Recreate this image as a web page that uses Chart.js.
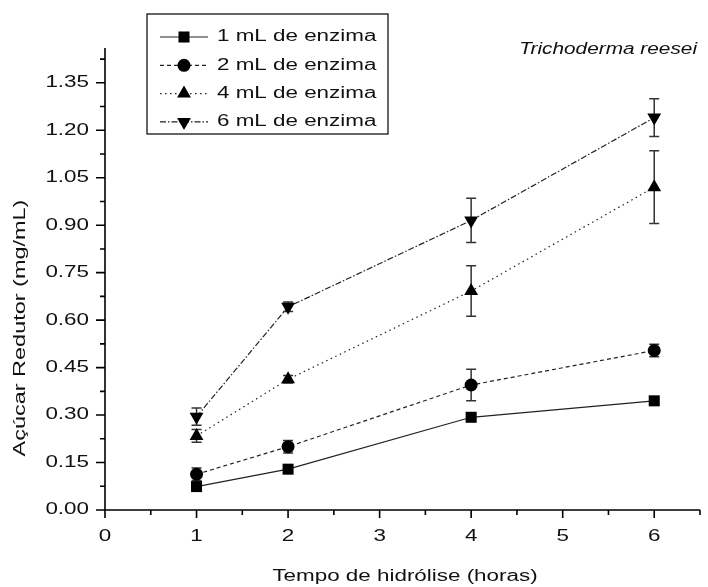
<!DOCTYPE html>
<html>
<head>
<meta charset="utf-8">
<script src="https://cdn.jsdelivr.net/npm/chart.js@4.4.0/dist/chart.umd.min.js"></script>
<style>
  html, body { margin: 0; padding: 0; background: #fff; }
  #wrap { width: 708px; height: 587px; }
</style>
</head>
<body>
<div id="wrap"><canvas id="chart" width="708" height="587"></canvas></div>
<script>
// dados
const horas = [1, 2, 4, 6];
const enzima1 = [0.074, 0.129, 0.293, 0.345];
const enzima2 = [0.113, 0.200, 0.395, 0.504];
const enzima4 = [0.234, 0.413, 0.692, 1.020];
const enzima6 = [0.295, 0.642, 0.915, 1.240];
const erro1 = [0.005, 0.005, 0.006, 0.006];
const erro2 = [0.020, 0.020, 0.050, 0.020];
const erro4 = [0.020, 0.012, 0.080, 0.115];
const erro6 = [0.027, 0.015, 0.070, 0.060];
const legendas = ['1 mL de enzima', '2 mL de enzima', '4 mL de enzima', '6 mL de enzima'];
const xTicks = [0, 1, 2, 3, 4, 5, 6];
const yTicks = [0, 0.15, 0.30, 0.45, 0.60, 0.75, 0.90, 1.05, 1.20, 1.35];

const FONTE = '"Liberation Sans", Arial, sans-serif';

function pontos(valores) {
  return horas.map((h, i) => ({ x: h, y: valores[i] }));
}

// texto esticado na horizontal, como no original
function texto(ctx, s, x, y, align, sx, rot) {
  ctx.save();
  ctx.translate(x, y);
  if (rot) ctx.rotate(rot);
  ctx.scale(sx, 1);
  ctx.textAlign = align;
  ctx.textBaseline = 'middle';
  ctx.fillText(s, 0, 0);
  ctx.restore();
}

const errorBars = {
  id: 'errorBars',
  beforeDatasetsDraw(chart) {
    const { ctx, scales: { x, y } } = chart;
    ctx.save();
    ctx.strokeStyle = '#333';
    ctx.lineWidth = 1.5;
    chart.data.datasets.forEach(ds => {
      ds.data.forEach((p, i) => {
        const e = ds.errors[i];
        const px = x.getPixelForValue(p.x);
        const top = y.getPixelForValue(p.y + e);
        const bot = y.getPixelForValue(p.y - e);
        ctx.beginPath();
        ctx.moveTo(px, top); ctx.lineTo(px, bot);
        ctx.moveTo(px - 5, top); ctx.lineTo(px + 5, top);
        ctx.moveTo(px - 5, bot); ctx.lineTo(px + 5, bot);
        ctx.stroke();
      });
    });
    ctx.restore();
  }
};

const eixos = {
  id: 'eixos',
  afterDraw(chart) {
    const { ctx, chartArea: area, scales: { x, y } } = chart;
    ctx.save();
    ctx.strokeStyle = '#000';
    ctx.fillStyle = '#111';
    ctx.lineWidth = 1.6;

    // linhas dos eixos
    ctx.beginPath();
    ctx.moveTo(area.left, area.top);
    ctx.lineTo(area.left, area.bottom);
    ctx.lineTo(area.right, area.bottom);
    ctx.stroke();

    // marcas do eixo y
    ctx.beginPath();
    yTicks.forEach(v => {
      const py = y.getPixelForValue(v);
      ctx.moveTo(area.left - 9, py); ctx.lineTo(area.left, py);
      const m = v + 0.075;
      if (m <= y.max) {
        const pm = y.getPixelForValue(m);
        ctx.moveTo(area.left - 5, pm); ctx.lineTo(area.left, pm);
      }
    });
    // marcas do eixo x
    xTicks.forEach(v => {
      const px = x.getPixelForValue(v);
      ctx.moveTo(px, area.bottom); ctx.lineTo(px, area.bottom + 8);
      const m = v + 0.5;
      if (m <= x.max) {
        const pm = x.getPixelForValue(m);
        ctx.moveTo(pm, area.bottom); ctx.lineTo(pm, area.bottom + 5);
      }
    });
    ctx.stroke();

    ctx.font = '16px ' + FONTE;
    yTicks.forEach(v => texto(ctx, v.toFixed(2), area.left - 16, y.getPixelForValue(v), 'right', 1.4));
    xTicks.forEach(v => texto(ctx, String(v), x.getPixelForValue(v), area.bottom + 27, 'center', 1.4));

    // títulos
    texto(ctx, 'Tempo de hidrólise (horas)', 405, 577, 'center', 1.4);
    ctx.font = '17px ' + FONTE;
    texto(ctx, 'Açúcar Redutor (mg/mL)', 20, 328, 'center', 1.38, -Math.PI / 2);
    ctx.font = 'italic 16px ' + FONTE;
    texto(ctx, 'Trichoderma reesei', 697, 50, 'right', 1.3);

    // legenda
    const bx = 147, by = 14, bw = 241, bh = 120;
    ctx.lineWidth = 1.2;
    ctx.strokeRect(bx, by, bw, bh);
    ctx.font = '16px ' + FONTE;
    chart.data.datasets.forEach((ds, i) => {
      const ly = 37 + i * 28.3;
      ctx.save();
      ctx.strokeStyle = ds.borderColor;
      ctx.lineWidth = ds.borderWidth;
      ctx.setLineDash(ds.borderDash);
      ctx.beginPath();
      ctx.moveTo(160, ly); ctx.lineTo(208, ly);
      ctx.stroke();
      ctx.restore();
      ctx.fillStyle = '#000';
      Chart.helpers.drawPoint(ctx, {
        pointStyle: ds.pointStyle,
        rotation: ds.pointRotation || 0,
        radius: ds.pointRadius,
        borderWidth: 0
      }, 184, ly);
      ctx.fillStyle = '#111';
      texto(ctx, ds.label, 217, ly, 'left', 1.4);
    });
    ctx.restore();
  }
};

function serie(label, valores, erros, dash, estilo, raio, rot) {
  return {
    label: label,
    data: pontos(valores),
    errors: erros,
    borderColor: '#222',
    borderWidth: 1.2,
    borderDash: dash,
    pointStyle: estilo,
    pointRotation: rot,
    pointRadius: raio,
    pointHoverRadius: raio,
    pointBackgroundColor: '#000',
    pointBorderWidth: 0,
    tension: 0,
    fill: false
  };
}

new Chart(document.getElementById('chart').getContext('2d'), {
  type: 'line',
  data: {
    datasets: [
      serie(legendas[0], enzima1, erro1, [], 'rect', 7.8, 0),
      serie(legendas[1], enzima2, erro2, [4, 3], 'circle', 6.5, 0),
      serie(legendas[2], enzima4, erro4, [1.5, 3.5], 'triangle', 8, 0),
      serie(legendas[3], enzima6, erro6, [6, 2, 1.5, 2], 'triangle', 8, 180)
    ]
  },
  options: {
    responsive: false,
    animation: false,
    devicePixelRatio: 1,
    layout: { padding: { left: 105, right: 3, top: 48, bottom: 77 } },
    plugins: { legend: { display: false }, tooltip: { enabled: false } },
    scales: {
      x: { type: 'linear', min: 0, max: 6.5, display: false },
      y: { type: 'linear', min: 0, max: 1.46, display: false }
    }
  },
  plugins: [errorBars, eixos]
});
</script>
</body>
</html>
